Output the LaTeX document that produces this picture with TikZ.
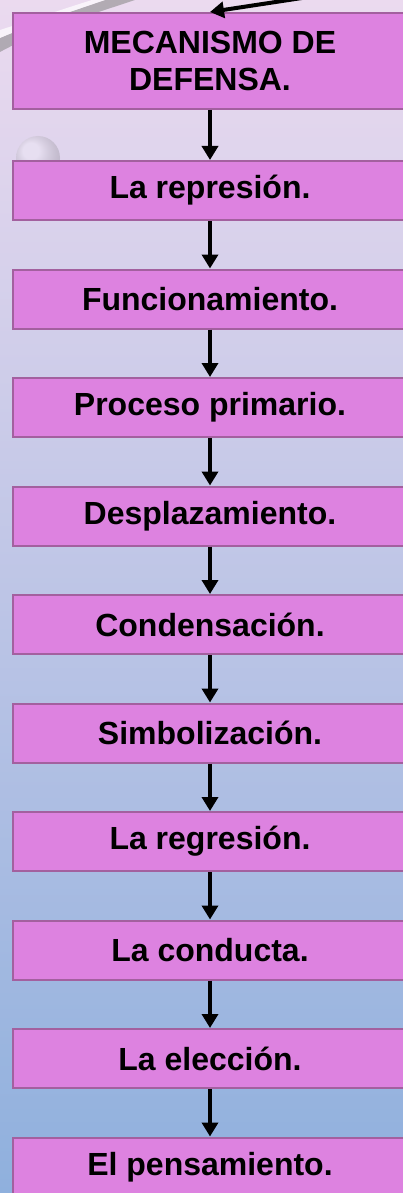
\documentclass[tikz,border=0pt]{standalone}
\usepackage{fontspec}
\setmainfont{Liberation Sans}
\usetikzlibrary{arrows.meta}

\definecolor{boxfill}{HTML}{DD82E0}
\definecolor{boxline}{HTML}{A3609F}
\definecolor{bgtop}{HTML}{EBDAEF}
\definecolor{bgmid}{HTML}{CBC3E8}
\definecolor{bgbot}{HTML}{8FB0DD}

\begin{document}
\begin{tikzpicture}[x=1pt,y=-1pt]
\tikzset{stage/.style={draw=boxline,fill=boxfill,line width=2pt,minimum width=394pt,minimum height=59pt,inner sep=0pt,align=center,font=\bfseries\fontsize{32}{37}\selectfont,anchor=north west}}
\tikzset{link/.style={draw=black,line width=4pt,-{Triangle[width=16pt,length=14pt]}}}

\useasboundingbox (0,0) rectangle (403,1193);
\clip (0,0) rectangle (403,1193);
\shade[top color=bgtop,middle color=bgmid,bottom color=bgbot] (0,0) rectangle (403,1193);

\fill[black!45,opacity=0.6] (0,52) .. controls (40,30) and (90,15) .. (135,0) -- (105,0) .. controls (70,12) and (30,25) .. (0,38) -- cycle;
\fill[white,opacity=0.7] (0,38) .. controls (30,25) and (70,12) .. (105,0) -- (92,0) .. controls (60,10) and (25,22) .. (0,30) -- cycle;
\shade[ball color=white,opacity=0.25] (38,158) circle (22);

\node[stage,minimum height=96pt] (b1) at (12,12) {MECANISMO DE\\DEFENSA.};
\foreach \txt [count=\i from 2] in {La represión.,Funcionamiento.,Proceso primario.,Desplazamiento.,Condensación.,Simbolización.,La regresión.,La conducta.,La elección.,El pensamiento.} {
  \node[stage] (b\i) at (12,{160+(\i-2)*108.5}) {\txt};
}

\coordinate (src) at (420,-20);
\path[link] (src) -- (b1.north);
\foreach \i [remember=\i as \prev (initially 1)] in {2,...,11} {
  \path[link] (b\prev) -- (b\i);
}
\end{tikzpicture}
\end{document}
